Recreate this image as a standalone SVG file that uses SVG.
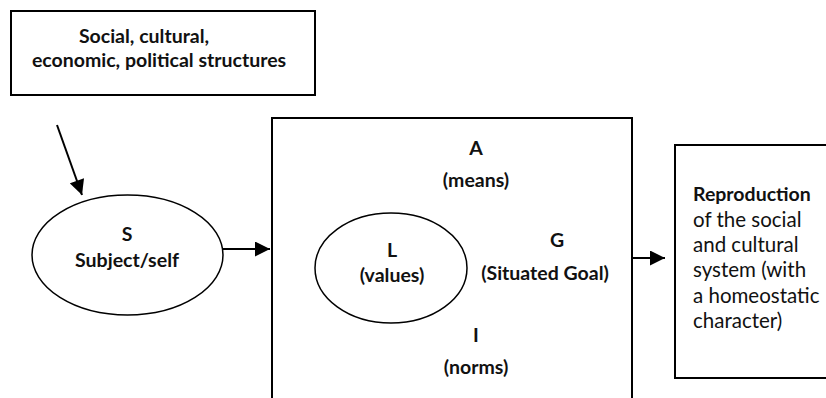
<svg xmlns="http://www.w3.org/2000/svg" width="826" height="398" viewBox="0 0 826 398">
  <style>
    .box { fill: #fff; stroke: #000; stroke-width: 2; }
    .oval { fill: #fff; stroke: #000; stroke-width: 1.5; }
    .lbl { font-family: Lato, "Liberation Sans", sans-serif; font-size: 20.5px; fill: #111; }
    .b { font-weight: bold; font-size: 19.5px; }
    .c { text-anchor: middle; }
    .edge { stroke: #000; stroke-width: 2; fill: none; marker-end: url(#head); }
  </style>
  <defs>
    <marker id="head" viewBox="0 0 10 10" refX="10" refY="5" markerWidth="8" markerHeight="7.5" orient="auto" markerUnits="strokeWidth">
      <path d="M0,0 L10,5 L0,10 Z" fill="#000"/>
    </marker>
  </defs>
  <rect width="826" height="398" fill="#fff"/>

  <g id="structures">
    <rect class="box" x="11" y="11" width="304" height="84"/>
    <text class="lbl b c" x="144" y="43">Social, cultural,</text>
    <text class="lbl b c" x="159" y="67">economic, political structures</text>
  </g>

  <g id="subject">
    <ellipse class="oval" cx="127.5" cy="255" rx="95.5" ry="60"/>
    <text class="lbl b c" x="127" y="241">S</text>
    <text class="lbl b c" x="127" y="267" textLength="104" lengthAdjust="spacingAndGlyphs">Subject/self</text>
  </g>

  <g id="agil">
    <rect class="box" x="272" y="118" width="360" height="300"/>
    <text class="lbl b c" x="476" y="155">A</text>
    <text class="lbl b c" x="476" y="187">(means)</text>
    <text class="lbl b c" x="557" y="247">G</text>
    <text class="lbl b c" x="545" y="280">(Situated Goal)</text>
    <text class="lbl b c" x="476" y="342">I</text>
    <text class="lbl b c" x="476" y="374">(norms)</text>
  </g>

  <g id="values">
    <ellipse class="oval" cx="391" cy="268" rx="76" ry="55"/>
    <text class="lbl b c" x="392" y="257">L</text>
    <text class="lbl b c" x="392" y="282">(values)</text>
  </g>

  <g id="reproduction">
    <rect class="box" x="675" y="145" width="170" height="233"/>
    <text class="lbl b" x="693" y="201">Reproduction</text>
    <text class="lbl" x="693" y="227">of the social</text>
    <text class="lbl" x="693" y="252">and cultural</text>
    <text class="lbl" x="693" y="277">system (with</text>
    <text class="lbl" x="693" y="303">a homeostatic</text>
    <text class="lbl" x="693" y="328">character)</text>
  </g>

  <g id="connectors">
    <line class="edge" x1="57" y1="125" x2="82" y2="195"/>
    <line class="edge" x1="223" y1="249" x2="270" y2="249"/>
    <line class="edge" x1="632" y1="258" x2="665" y2="258"/>
  </g>
</svg>
